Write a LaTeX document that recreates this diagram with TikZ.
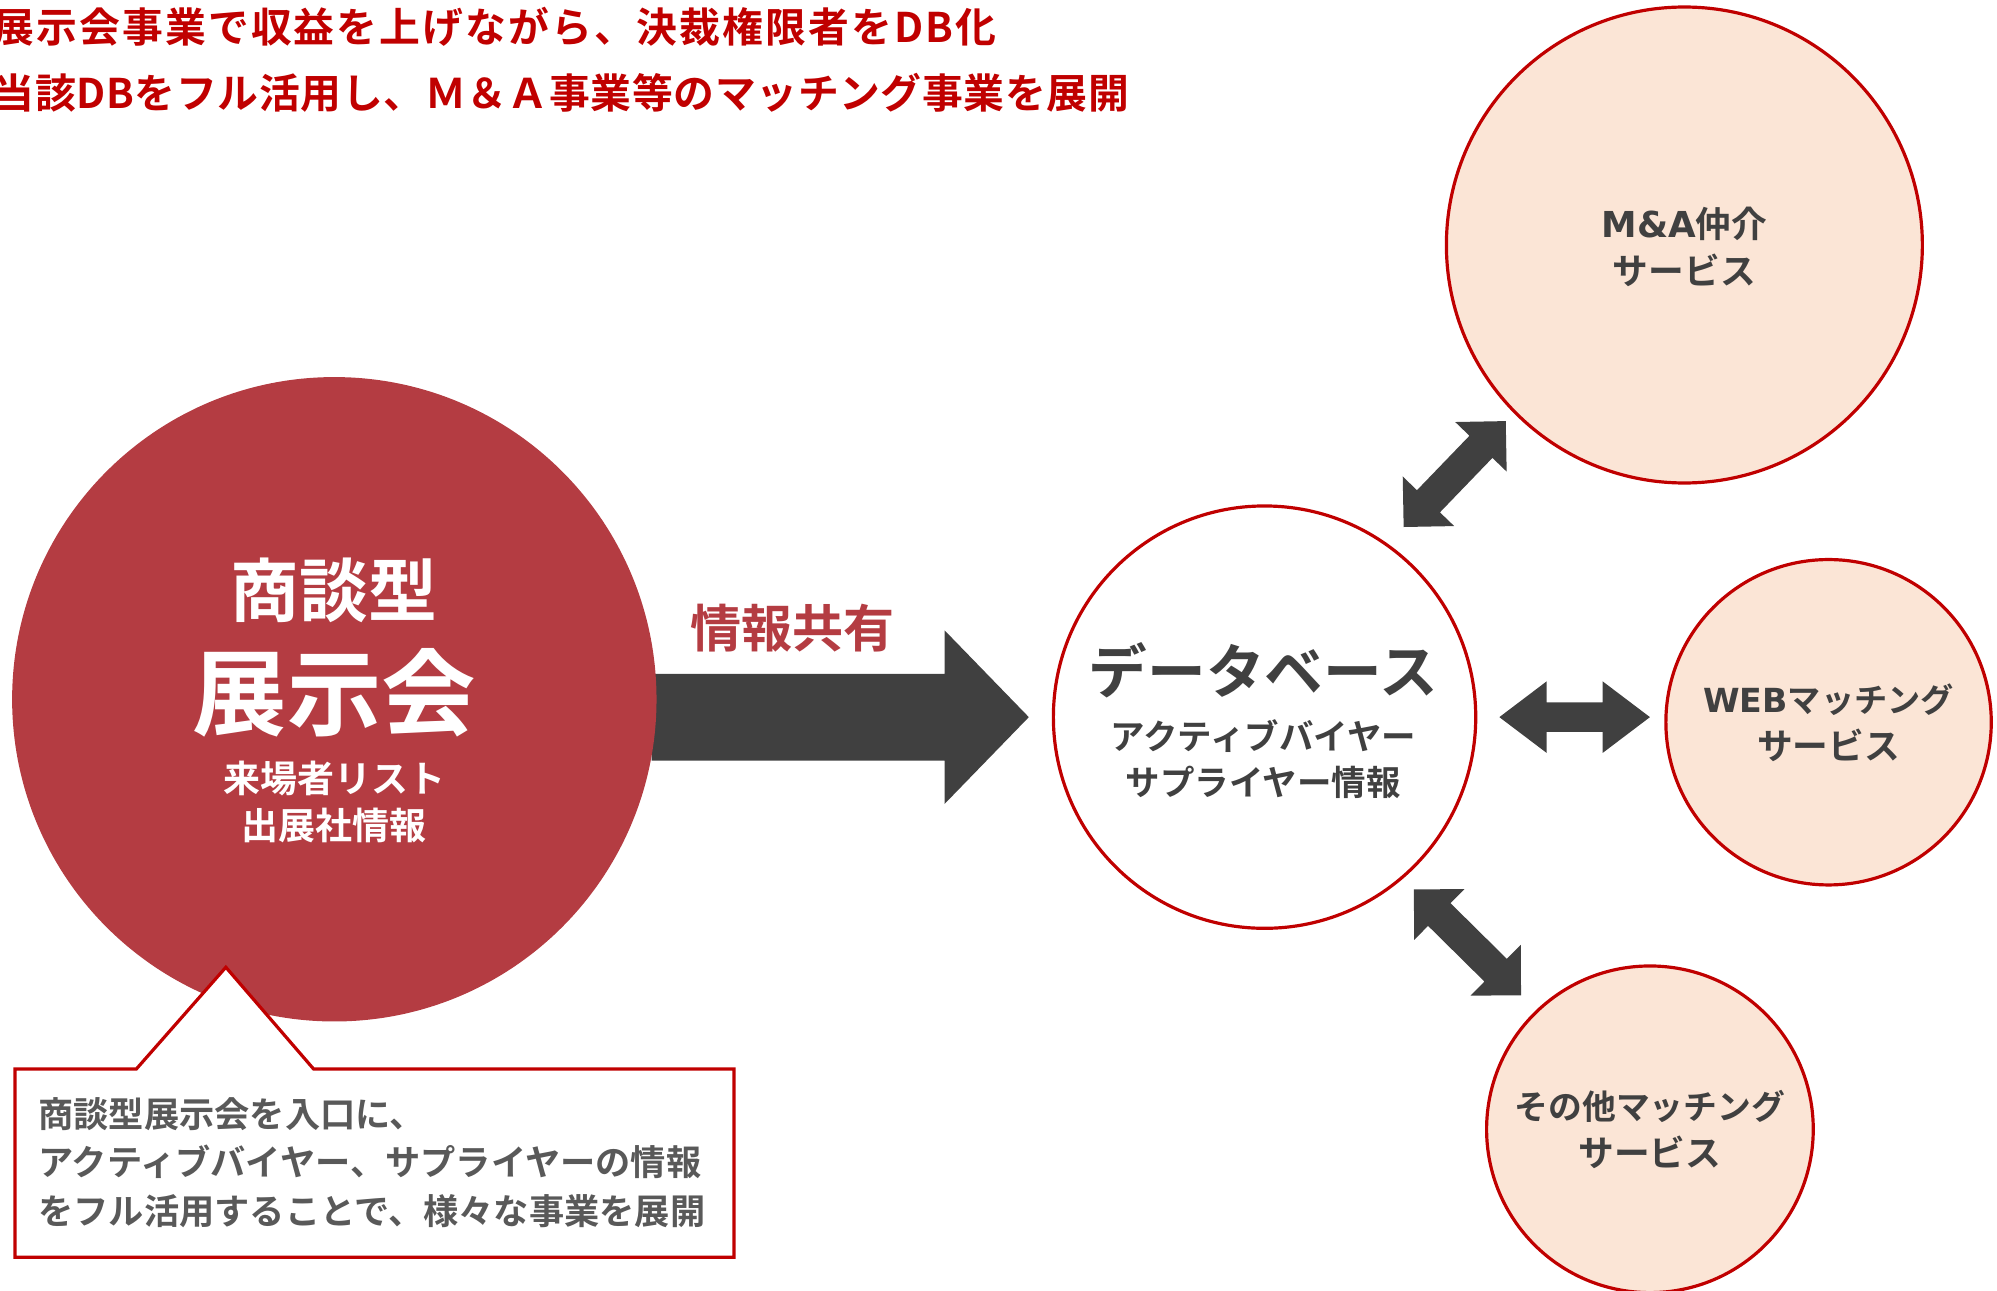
\documentclass[tikz,border=0pt]{standalone}
\usepackage{fontspec}
\setmainfont{Noto Sans CJK JP Bold}
\newfontfamily\latfont{DejaVu Sans Bold}
\usetikzlibrary{calc}
\definecolor{exred}{HTML}{B43C42}
\definecolor{titlered}{HTML}{C00000}
\definecolor{bordred}{HTML}{C00000}
\definecolor{darktxt}{HTML}{404040}
\definecolor{notegray}{HTML}{595959}
\definecolor{peach}{HTML}{FBE5D6}
\pgfdeclarelayer{bg}
\pgfsetlayers{bg,main}
\newcommand\fsz[2]{\fontsize{#1}{#2}\selectfont}
\newcommand\dblarrow[5]{%
  \path ($(#1)!#5!(#2)$) coordinate (da1) ($(#2)!#5!(#1)$) coordinate (db1);
  \fill[arrowfill] (#1) -- ($(da1)!#4!90:(#2)$) -- ($(da1)!#3!90:(#2)$)
    -- ($(db1)!#3!-90:(#1)$) -- ($(db1)!#4!-90:(#1)$) -- (#2)
    -- ($(db1)!#4!90:(#1)$) -- ($(db1)!#3!90:(#1)$)
    -- ($(da1)!#3!-90:(#2)$) -- ($(da1)!#4!-90:(#2)$) -- cycle;}
\begin{document}
\begin{tikzpicture}[x=1pt,y=-1pt,
  arrowfill/.style={fill=darktxt},
  svc/.style={circle, draw=bordred, line width=2.5pt, fill=peach, inner sep=0},
  svctxt/.style={text=darktxt, align=center, inner sep=0, font=\fsz{28}{37}},
  whitetxt/.style={text=white, align=center, inner sep=0},
  titletxt/.style={anchor=west, text=titlered, inner sep=0},
  calloutline/.style={draw=bordred, line width=2.5pt, fill=white, line join=miter}]
\useasboundingbox (0,0) rectangle (1565,1011);

% title
\node[titletxt, font={\fsz{32}{40}\addfontfeature{LetterSpace=5}}] (title1) at (-5,21)
  {展示会事業で収益を上げながら、決裁権限者をDB化};
\node[titletxt, font={\fsz{32}{40}\addfontfeature{LetterSpace=1.5}}] (title2) at (-5,73)
  {当該DBをフル活用し、Ｍ＆Ａ事業等のマッチング事業を展開};

% exhibition circle
\node[circle, fill=exred, minimum size=505pt, inner sep=0] (ex) at (262,548) {};
\node[whitetxt, font=\fsz{54}{60}] (exa) at (262,463) {商談型};
\node[whitetxt, font=\fsz{74}{84}] (exb) at (262,543) {展示会};
\node[whitetxt, font=\fsz{29}{37}] (exc) at (262,628.5) {来場者リスト\\出展社情報};

% callout
\node[minimum width=563pt, minimum height=147pt, inner sep=0] (note) at (293.5,911.5) {};
\coordinate (tip) at (177,758);
\draw[calloutline] (note.north west) -- ($(note.north west)+(95,0)$) -- (tip)
  -- ($(note.north west)+(234,0)$) -- (note.north east) -- (note.south east)
  -- (note.south west) -- cycle;
\node[anchor=west, text=notegray, align=left, inner sep=0, font=\fsz{27.6}{38}] (notetext) at (30,911)
  {商談型展示会を入口に、\\アクティブバイヤー、サプライヤーの情報\\をフル活用することで、様々な事業を展開};

% label
\node[text=exred, inner sep=0, font=\fsz{40}{48}] (share) at (621,492) {情報共有};

% database
\node[circle, draw=bordred, line width=2.5pt, fill=white, minimum size=331pt, inner sep=0] (db) at (991,562) {};
\node[text=darktxt, inner sep=0, font=\fsz{46}{56}] (dba) at (990,525) {データベース};
\node[text=darktxt, align=center, inner sep=0, font=\fsz{27}{36}] (dbb) at (990,595) {アクティブバイヤー\\サプライヤー情報};

% services
\node[svc, minimum size=373pt] (ma) at (1320,192) {};
\node[svctxt] (mat) at (1320,193.5) {{\latfont\fsz{28}{37}M\&A}仲介\\サービス};
\node[svc, minimum size=255pt] (web) at (1433,566) {};
\node[svctxt] (webt) at (1433,566.5) {{\latfont\fsz{26}{37}WEB}{\fsz{26}{37}マッチング}\\サービス};
\node[svc, minimum size=256pt] (oth) at (1293,885) {};
\node[svctxt] (otht) at (1293,885) {{\fsz{26.5}{37}その他マッチング}\\サービス};

% arrows
\coordinate (mS) at (ex.east |- db.west);
\coordinate (mE) at ($(db.west)+(-18,0)$);
\coordinate (a1s) at (1100,413);
\coordinate (a1e) at (1180,330);
\coordinate (a2s) at (1175,562);
\coordinate (a2e) at (1293,562);
\coordinate (a3s) at (1108,697);
\coordinate (a3e) at (1192,780);
\begin{pgfonlayer}{bg}
\fill[arrowfill] ($(mS)+(-4,-34)$) -- ($(mE)+(-66,-34)$) -- ($(mE)+(-66,-68)$) -- (mE)
  -- ($(mE)+(-66,68)$) -- ($(mE)+(-66,34)$) -- ($(mS)+(-4,34)$) -- cycle;
\end{pgfonlayer}
\dblarrow{a1s}{a1e}{12.5pt}{28pt}{28pt}
\dblarrow{a2s}{a2e}{11.5pt}{28pt}{37pt}
\dblarrow{a3s}{a3e}{12.5pt}{28pt}{28pt}
\end{tikzpicture}
\end{document}
